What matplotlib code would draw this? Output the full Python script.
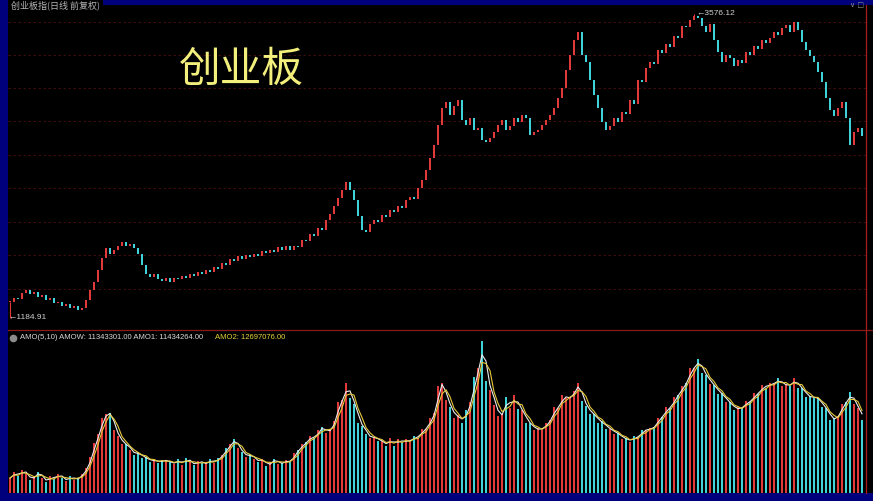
import matplotlib
matplotlib.use('Agg')
import matplotlib.pyplot as plt
import numpy as np
import pandas as pd
from matplotlib.lines import Line2D
from matplotlib.patches import Rectangle

plt.rcParams['font.family'] = ['Noto Sans CJK SC', 'DejaVu Sans']
plt.rcParams['axes.unicode_minus'] = False

#%% 数据 (从图上读取, 每根约4个交易日)
closes = [
    1311, 1342, 1330, 1382, 1405, 1372, 1390, 1350, 1366, 1327,
    1340, 1303, 1310, 1280, 1295, 1264, 1279, 1248, 1264, 1327,
    1405, 1468, 1563, 1657, 1736, 1688, 1720, 1751, 1783, 1751,
    1767, 1735, 1690, 1600, 1530, 1508, 1530, 1490, 1476, 1500,
    1466, 1500, 1488, 1515, 1498, 1531, 1515, 1547, 1530, 1560,
    1548, 1586, 1570, 1618, 1600, 1649, 1632, 1670, 1650, 1680,
    1662, 1690, 1672, 1710, 1694, 1722, 1705, 1740, 1718, 1750,
    1716, 1752, 1740, 1798, 1790, 1846, 1830, 1893, 1880, 1956,
    2003, 2066, 2129, 2192, 2255, 2192, 2113, 1987, 1877, 1861,
    1924, 1956, 1940, 1995, 1980, 2034, 2020, 2066, 2050, 2113,
    2137, 2120, 2208, 2270, 2349, 2444, 2546, 2703, 2837, 2884,
    2782, 2853, 2900, 2742, 2703, 2758, 2664, 2680, 2585, 2569,
    2601, 2648, 2703, 2742, 2664, 2695, 2758, 2727, 2782, 2758,
    2624, 2648, 2664, 2703, 2742, 2782, 2837, 2915, 2994, 3136,
    3254, 3372, 3435, 3254, 3199, 3057, 2939, 2837, 2727, 2664,
    2695, 2758, 2727, 2805, 2790, 2900, 2870, 3057, 3040, 3152,
    3199, 3180, 3293, 3270, 3340, 3320, 3403, 3390, 3482, 3470,
    3529, 3561, 3545, 3482, 3435, 3498, 3372, 3277, 3199, 3254,
    3230, 3167, 3214, 3190, 3277, 3250, 3325, 3300, 3372, 3350,
    3387, 3435, 3410, 3466, 3490, 3435, 3513, 3450, 3356, 3293,
    3246, 3199, 3120, 3041, 2915, 2821, 2774, 2837, 2884, 2758,
    2546, 2648, 2680, 2617,
]

# 成交额 (万)
volumes = [
    235, 329, 266, 360, 298, 204, 266, 329, 235, 172,
    266, 219, 298, 235, 188, 266, 204, 235, 298, 392,
    560, 780, 930, 1180, 1230, 1260, 990, 890, 770, 760,
    673, 600, 640, 548, 560, 485, 530, 470, 520, 500,
    485, 454, 530, 440, 548, 480, 438, 505, 470, 454,
    530, 470, 548, 595, 700, 760, 850, 700, 642, 560,
    610, 530, 490, 540, 420, 480, 530, 460, 470, 510,
    485, 620, 680, 760, 800, 890, 860, 980, 1040, 940,
    1010, 1120, 1420, 1450, 1720, 1480, 1400, 1100, 1050, 920,
    860, 880, 820, 810, 740, 860, 740, 850, 780, 840,
    800, 900, 860, 1010, 1000, 1180, 1250, 1680, 1720, 1450,
    1350, 1180, 1220, 1100, 1300, 1420, 1810, 1950, 2380, 1750,
    1620, 1380, 1210, 1240, 1500, 1330, 1530, 1320, 1300, 1100,
    1100, 980, 1020, 990, 1100, 1140, 1340, 1330, 1530, 1480,
    1500, 1600, 1720, 1440, 1370, 1230, 1240, 1100, 1120, 1010,
    1010, 930, 940, 840, 860, 800, 890, 870, 990, 980,
    1020, 1030, 1180, 1190, 1340, 1330, 1500, 1540, 1680, 1730,
    1950, 1960, 2100, 1880, 1850, 1700, 1690, 1550, 1560, 1420,
    1420, 1300, 1340, 1330, 1440, 1420, 1560, 1550, 1690, 1650,
    1730, 1700, 1800, 1680, 1710, 1670, 1800, 1640, 1650, 1500,
    1520, 1480, 1490, 1340, 1330, 1150, 1170, 1210, 1400, 1420,
    1580, 1390, 1330, 1150,
]

low_value = 1184.91
high_value = 3576.12
title_text = '创业板指(日线 前复权)'
big_label = '创业板'
amo_text = 'AMO(5,10) AMOW: 11343301.00 AMO1: 11434264.00'
amo2_text = 'AMO2: 12697076.00'

#%% 画布
W, H = 873, 501
fig = plt.figure(figsize=(8.73, 5.01), dpi=100, facecolor='#00007c')

def fx(px):
    return px / W

def fy(py):
    return 1 - py / H

# 黑色底
fig.add_artist(Rectangle((fx(8), fy(493)), 1 - fx(8), (493 - 5) / H,
                         transform=fig.transFigure, facecolor='black',
                         edgecolor='none', zorder=-2))
fig.add_artist(Rectangle((fx(8), fy(6)), fx(95), 6 / H,
                         transform=fig.transFigure, facecolor='black',
                         edgecolor='none', zorder=-2))

ax = fig.add_axes([fx(8), fy(330), fx(858), (330 - 8) / H])
axv = fig.add_axes([fx(8), fy(493), fx(858), (493 - 337) / H])
for a in (ax, axv):
    a.set_facecolor('none')
    for s in a.spines.values():
        s.set_visible(False)
    a.tick_params(left=False, bottom=False, labelleft=False, labelbottom=False)

up_color = '#e23a3a'
down_color = '#3fd2d8'

c = np.array(closes, dtype=float)
o = np.r_[c[0], c[:-1]]
x = np.arange(len(c))
up = c >= o
colors = np.where(up, up_color, down_color)

# K线
body_bottom = np.minimum(o, c)
body_h = np.maximum(np.abs(c - o), 5)
ax.bar(x, body_h, bottom=body_bottom, width=0.55, color=colors, edgecolor='none', zorder=3)
i_lo = 0
i_hi = int(np.argmax(c))
ax.vlines(i_lo, low_value, body_bottom[i_lo], color=colors[i_lo], lw=0.8, zorder=3)
ax.vlines(i_hi, body_bottom[i_hi] + body_h[i_hi], high_value, color=colors[i_hi], lw=0.8, zorder=3)

ax.text(i_lo - 0.4, low_value, '←' + f'{low_value:.2f}', color='#d0d0d0', fontsize=6,
        family=['Liberation Sans', 'DejaVu Sans'], va='center', ha='left', zorder=4)
ax.text(i_hi + 0.6, high_value, '←' + f'{high_value:.2f}', color='#d0d0d0', fontsize=6,
        family=['Liberation Sans', 'DejaVu Sans'], va='center', ha='left', zorder=4)

ax.set_xlim(-0.5, 214)
ax.set_ylim(1090, 3623)
ax.set_yticks([1415, 1680, 1942, 2205, 2468, 2732, 2995, 3255, 3515])
ax.grid(axis='y', color='#4a0e0e', lw=0.6, linestyle=(0, (3, 3)))
ax.set_axisbelow(True)

# 成交额
axv.bar(x, volumes, width=0.55, color=colors, edgecolor='none', zorder=2)
vs = pd.Series(volumes, dtype=float)
axv.plot(x, vs.rolling(2, min_periods=1).mean(), color='#ececec', lw=0.8, zorder=3)
axv.plot(x, vs.rolling(3, min_periods=1).mean(), color='#e6c838', lw=0.8, zorder=3)
axv.set_xlim(-0.5, 214)
axv.set_ylim(0, 2443)

# 分隔线
fig.add_artist(Line2D([fx(8), 1], [fy(330), fy(330)], transform=fig.transFigure,
                      color='#8a1a1a', lw=0.9))
fig.add_artist(Line2D([fx(866), fx(866)], [fy(5), fy(493)], transform=fig.transFigure,
                      color='#a81c1c', lw=0.9))

# 文字
fig.text(fx(11), fy(5), title_text, fontsize=6.5, color='#b4b4b4', va='center', ha='left')
fig.text(fx(241), fy(70), big_label, fontsize=30, color='#f3ef7c', ha='center', va='center')
fig.add_artist(Line2D([fx(13)], [fy(337.5)], transform=fig.transFigure, marker='o',
                      markersize=4.5, color='#8c8c8c', lw=0))
fig.text(fx(20), fy(337.5), amo_text, fontsize=5.5, color='#d8d8d8', va='center', ha='left',
         family=['Liberation Sans', 'DejaVu Sans'])
fig.text(fx(215), fy(337.5), amo2_text, fontsize=5.5, color='#e6d23a', va='center', ha='left',
         family=['Liberation Sans', 'DejaVu Sans'])
fig.text(fx(850), fy(5), '∨ □', fontsize=5, color='#909090', va='center', ha='left',
         family=['DejaVu Sans'])

fig.savefig('out.png', dpi=100, facecolor=fig.get_facecolor())
